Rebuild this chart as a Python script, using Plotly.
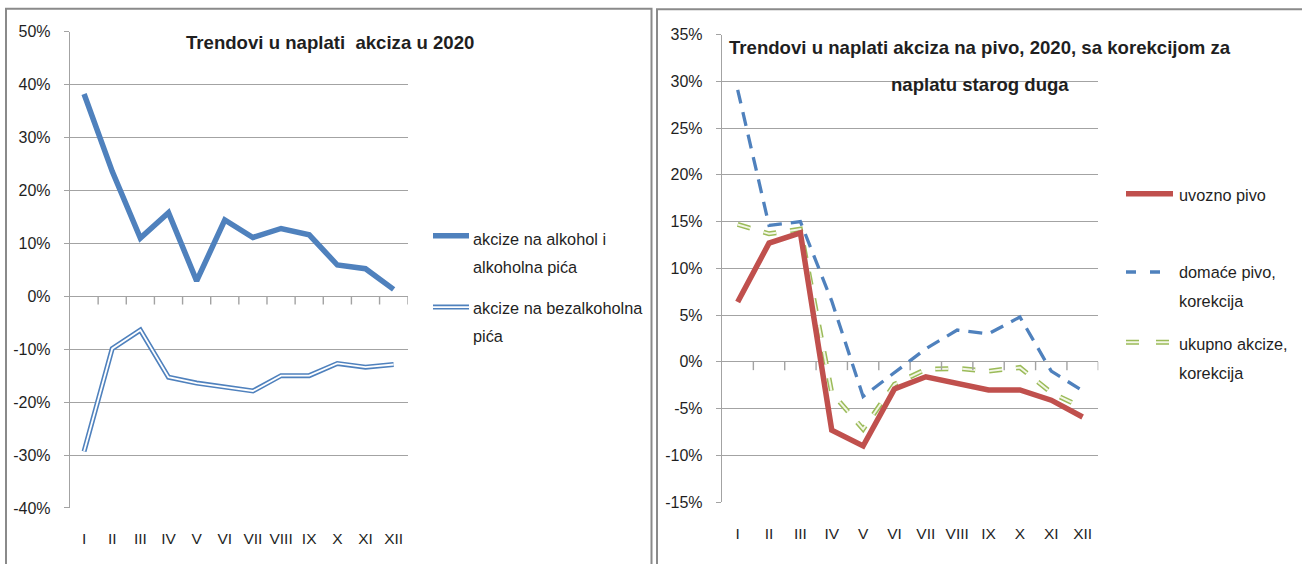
import plotly.graph_objects as go

# ---------------- data ----------------
months = ["I", "II", "III", "IV", "V", "VI", "VII", "VIII", "IX", "X", "XI", "XII"]

# left chart (percent)
alkohol = [38.2, 23.6, 11.0, 15.8, 2.9, 14.4, 11.1, 12.8, 11.6, 5.9, 5.2, 1.3]
bezalkoholna = [-29.3, -9.9, -6.4, -15.3, -16.4, -17.1, -17.9, -15.0, -15.0, -12.7, -13.4, -12.9]

# right chart (percent)
uvozno = [6.4, 12.7, 13.8, -7.3, -9.0, -2.9, -1.6, -2.3, -3.0, -3.0, -4.1, -5.9]
domace = [29.1, 14.6, 15.0, 6.5, -3.7, -1.2, 1.4, 3.4, 3.0, 4.8, -1.0, -3.1]
ukupno = [14.7, 13.7, 14.2, -3.3, -7.2, -2.4, -0.8, -0.7, -1.0, -0.6, -3.3, -4.9]

left_ticks = [50, 40, 30, 20, 10, 0, -10, -20, -30, -40]
right_ticks = [35, 30, 25, 20, 15, 10, 5, 0, -5, -10, -15]

left_title = "Trendovi u naplati  akciza u 2020"
right_title_1 = "Trendovi u naplati akciza na pivo, 2020, sa korekcijom za"
right_title_2 = "naplatu starog duga"

# ---------------- styles ----------------
W, H = 1302, 564
FONT = "Liberation Sans, Arial, sans-serif"
BLUE = "#4F81BD"
RED = "#C0504D"
GREEN = "#9BBB59"
GRID = "#a3a3a3"
TXT = "#1f1f1f"
LEG = 16.3

# vertical calibration of the photographed page (measured): shown = 9.8 + 0.967 * page
VS, VO = 0.967, 9.8


def px_x(p):
    return p / W


def px_y(p):
    page = (p - VO) / VS
    return 1 - page / H


fig = go.Figure()

# left chart traces
fig.add_trace(go.Scatter(x=months, y=alkohol, mode="lines", xaxis="x", yaxis="y",
                         line=dict(color=BLUE, width=5.5), showlegend=False))
fig.add_trace(go.Scatter(x=months, y=bezalkoholna, mode="lines", xaxis="x", yaxis="y",
                         line=dict(color=BLUE, width=5), showlegend=False))
fig.add_trace(go.Scatter(x=months, y=bezalkoholna, mode="lines", xaxis="x", yaxis="y",
                         line=dict(color="white", width=1.8), showlegend=False))

# right chart traces
fig.add_trace(go.Scatter(x=months, y=ukupno, mode="lines", xaxis="x2", yaxis="y2",
                         line=dict(color=GREEN, width=5, dash="13px,14px"), showlegend=False))
fig.add_trace(go.Scatter(x=months, y=ukupno, mode="lines", xaxis="x2", yaxis="y2",
                         line=dict(color="#f3f7e6", width=2, dash="13px,14px"), showlegend=False))
fig.add_trace(go.Scatter(x=months, y=domace, mode="lines", xaxis="x2", yaxis="y2",
                         line=dict(color=BLUE, width=3.3, dash="14px,9px"), showlegend=False))
fig.add_trace(go.Scatter(x=months, y=uvozno, mode="lines", xaxis="x2", yaxis="y2",
                         line=dict(color=RED, width=5.5), showlegend=False))

xcommon = dict(type="category", range=[-0.5, len(months) - 0.5], showgrid=False, zeroline=False,
               showline=False, ticks="", tickfont=dict(family=FONT, size=15.5, color=TXT),
               ticklabelstandoff=20)
ycommon = dict(showgrid=True, gridcolor=GRID, gridwidth=1.4, zeroline=False, showline=True,
               linecolor=GRID, linewidth=1.4, ticks="outside", ticklen=5, tickcolor=GRID,
               tickwidth=1.4, tickfont=dict(family=FONT, size=16, color=TXT), ticklabelstandoff=10)

fig.update_layout(
    width=W, height=H, autosize=False, margin=dict(l=0, r=0, t=0, b=0, pad=0),
    paper_bgcolor="white", plot_bgcolor="white",
    xaxis=dict(domain=[px_x(70), px_x(407.7)], anchor="y", **xcommon),
    yaxis=dict(domain=[px_y(508.3), px_y(33.3)], anchor="x",
               range=[min(left_ticks), max(left_ticks)],
               tickvals=left_ticks, ticktext=[f"{v}%" for v in left_ticks], **ycommon),
    xaxis2=dict(domain=[px_x(722), px_x(1098.3)], anchor="y2", **xcommon),
    yaxis2=dict(domain=[px_y(502.4), px_y(36.4)], anchor="x2",
                range=[min(right_ticks), max(right_ticks)],
                tickvals=right_ticks, ticktext=[f"{v}%" for v in right_ticks], **ycommon),
)

shapes = []
# category-boundary tick marks on the 0% line
for xr, yr in (("x", "y"), ("x2", "y2")):
    for i in range(len(months)):
        shapes.append(dict(type="line", xref=xr, yref=yr, x0=i + 0.5, x1=i + 0.5,
                           ysizemode="pixel", yanchor=0, y0=0, y1=-8.3,
                           line=dict(color=GRID, width=1.4)))

# frames around the two charts
shapes.append(dict(type="rect", xref="paper", yref="paper", x0=px_x(6), x1=px_x(651.5),
                   y0=px_y(600), y1=0.9985, line=dict(color="#8a8a8a", width=2)))
shapes.append(dict(type="rect", xref="paper", yref="paper", x0=px_x(657), x1=px_x(1310),
                   y0=px_y(600), y1=0.9975, line=dict(color="#8a8a8a", width=2)))


def seg(x0, x1, y, color, width, dash="solid"):
    return dict(type="line", xref="paper", yref="paper", x0=px_x(x0), x1=px_x(x1),
                y0=px_y(y), y1=px_y(y), line=dict(color=color, width=width, dash=dash))


# manual legends
shapes += [
    seg(433, 469, 237, BLUE, 5.5),
    seg(433, 469, 308, BLUE, 5),
    seg(433, 469, 308, "white", 1.8),
    seg(1126, 1173, 195, RED, 5.5),
    seg(1126, 1163, 273, BLUE, 3.3, "10px,14px"),
    seg(1126, 1172, 343, GREEN, 5, "13px,17px"),
    seg(1126, 1172, 343, "#f3f7e6", 2, "13px,17px"),
]
fig.update_layout(shapes=shapes)


def txt(s, x, y, size=LEG, bold=False, xanchor="left"):
    return dict(text=f"<b>{s}</b>" if bold else s, xref="paper", yref="paper",
                x=px_x(x), y=px_y(y), xanchor=xanchor, yanchor="middle", showarrow=False,
                font=dict(family=FONT, size=size, color=TXT))


annotations = [
    txt(left_title, 330, 44, 18.6, True, "center"),
    txt(right_title_1, 980, 49, 18.6, True, "center"),
    txt(right_title_2, 980, 86, 18.6, True, "center"),
    txt("akcize na alkohol i", 471, 240),
    txt("alkoholna pića", 471, 268),
    txt("akcize na bezalkoholna", 471, 309),
    txt("pića", 471, 337),
    txt("uvozno pivo", 1177, 196),
    txt("domaće pivo,", 1177, 273),
    txt("korekcija", 1177, 302),
    txt("ukupno akcize,", 1177, 345),
    txt("korekcija", 1177, 374),
]
fig.update_layout(annotations=annotations)

fig.write_html(
    "out.html",
    config={"responsive": False, "displayModeBar": False},
    post_script=(
        "document.documentElement.style.margin='0px';"
        "document.documentElement.style.overflow='hidden';"
        "document.body.style.margin='0px';document.body.style.padding='0px';"
        "document.body.style.overflow='hidden';"
        "var gd=document.getElementById('{plot_id}');"
        "gd.style.position='fixed';gd.style.top='0px';gd.style.left='0px';"
    ),
)
